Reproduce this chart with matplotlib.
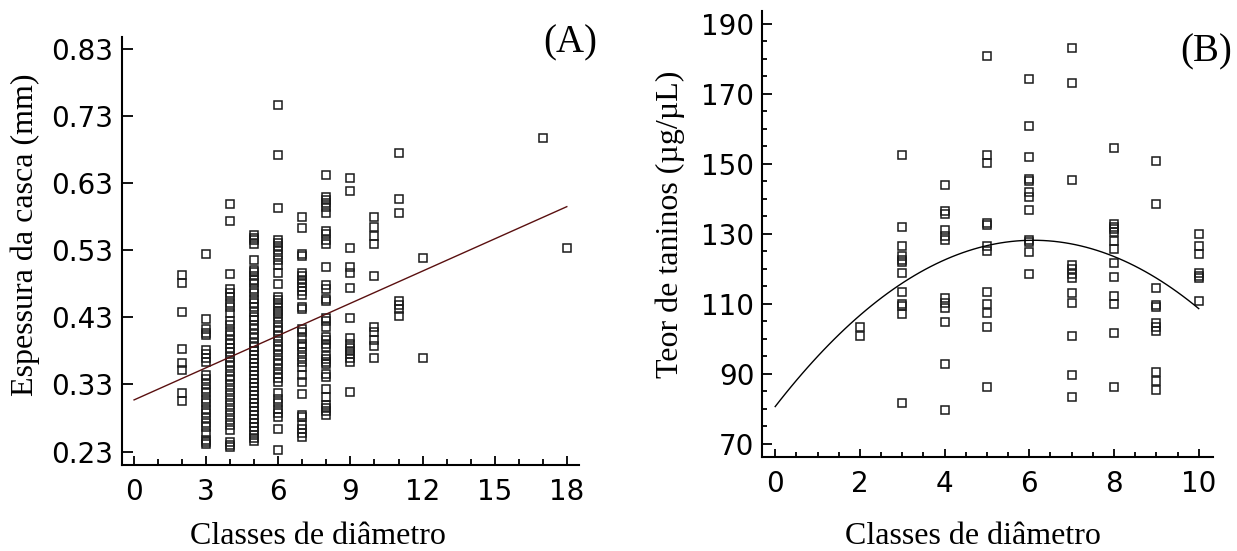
import numpy as np
import matplotlib
matplotlib.use("Agg")
import matplotlib.pyplot as plt
from matplotlib.ticker import FixedLocator, MultipleLocator, FormatStrFormatter

# ---------------- Panel A data: bark thickness (mm) per diameter class ----------------
a_c2 = [0.493, 0.481, 0.438, 0.383, 0.362, 0.352, 0.317, 0.305]
a_c3 = [0.525, 0.427, 0.412, 0.406, 0.403, 0.382, 0.376, 0.370, 0.364, 0.344, 0.338,
        0.331, 0.324, 0.317, 0.309, 0.303, 0.294, 0.287, 0.280, 0.273, 0.267, 0.258,
        0.247, 0.245, 0.242]
a_c4 = [0.599, 0.574, 0.495, 0.472, 0.466, 0.460, 0.452, 0.445, 0.437, 0.425, 0.418,
        0.410, 0.404, 0.397, 0.390, 0.384, 0.378, 0.371, 0.364, 0.357, 0.350, 0.343,
        0.336, 0.329, 0.322, 0.315, 0.307, 0.300, 0.292, 0.285, 0.277, 0.270, 0.262,
        0.245, 0.240, 0.237]
a_c5 = [0.553, 0.549, 0.545, 0.540, 0.515, 0.501, 0.497, 0.491, 0.486, 0.481, 0.473,
        0.466, 0.458, 0.452, 0.445, 0.438, 0.431, 0.426, 0.419, 0.412, 0.405, 0.399,
        0.392, 0.386, 0.380, 0.374, 0.368, 0.362, 0.356, 0.350, 0.344, 0.338, 0.332,
        0.326, 0.320, 0.314, 0.308, 0.302, 0.296, 0.290, 0.284, 0.278, 0.272, 0.266,
        0.260, 0.254, 0.250, 0.246]
a_c6 = [0.747, 0.672, 0.593, 0.545, 0.541, 0.536, 0.530, 0.523, 0.516, 0.508, 0.496,
        0.480, 0.461, 0.456, 0.452, 0.445, 0.440, 0.436, 0.430, 0.423, 0.416, 0.409,
        0.402, 0.395, 0.388, 0.381, 0.374, 0.367, 0.360, 0.353, 0.346, 0.340, 0.334,
        0.317, 0.309, 0.302, 0.294, 0.288, 0.282, 0.263, 0.232]
a_c7 = [0.580, 0.563, 0.524, 0.522, 0.496, 0.491, 0.486, 0.481, 0.475, 0.470, 0.463,
        0.445, 0.443, 0.413, 0.408, 0.400, 0.391, 0.386, 0.379, 0.371, 0.364, 0.356,
        0.344, 0.333, 0.316, 0.285, 0.282, 0.270, 0.263, 0.257, 0.252]
a_c8 = [0.642, 0.609, 0.605, 0.600, 0.595, 0.585, 0.559, 0.554, 0.546, 0.540, 0.505,
        0.478, 0.473, 0.458, 0.454, 0.429, 0.425, 0.416, 0.401, 0.396, 0.391, 0.386,
        0.373, 0.368, 0.364, 0.361, 0.346, 0.341, 0.323, 0.312, 0.300, 0.295, 0.290,
        0.285]
a_c9 = [0.637, 0.619, 0.533, 0.505, 0.496, 0.474, 0.429, 0.400, 0.390, 0.385, 0.380,
        0.375, 0.369, 0.364, 0.319]
a_c10 = [0.580, 0.564, 0.551, 0.539, 0.492, 0.416, 0.408, 0.396, 0.388, 0.369]
a_c11 = [0.675, 0.607, 0.585, 0.455, 0.448, 0.443, 0.432]
a_c12 = [0.518, 0.369]
a_c17 = [0.697]
a_c18 = [0.533]
a_classes = [2, 3, 4, 5, 6, 7, 8, 9, 10, 11, 12, 17, 18]
a_columns = [a_c2, a_c3, a_c4, a_c5, a_c6, a_c7, a_c8, a_c9, a_c10, a_c11, a_c12,
             a_c17, a_c18]
# linear fit (intercept, slope)
a_fit = [0.307, 0.0160]
a_yticks = [0.23, 0.33, 0.43, 0.53, 0.63, 0.73, 0.83]

# ---------------- Panel B data: tannin content (µg/µL) per diameter class ----------------
b_c2 = [103.3, 100.8]
b_c3 = [152.6, 131.8, 126.6, 123.5, 122.6, 121.9, 118.7, 113.4, 109.9, 109.4, 107.0, 81.6]
b_c4 = [144.0, 136.6, 135.6, 131.1, 129.4, 128.1, 111.5, 110.3, 108.7, 104.7, 92.8, 79.5]
b_c5 = [180.8, 152.5, 150.1, 133.0, 132.4, 126.4, 125.0, 113.4, 109.8, 107.4, 103.3, 86.3]
b_c6 = [174.3, 160.9, 151.9, 145.6, 145.0, 141.8, 140.4, 136.8, 128.3, 127.7, 124.8, 118.4]
b_c7 = [183.0, 173.1, 145.4, 121.0, 119.8, 118.6, 117.4, 113.0, 110.2, 100.8, 89.5, 83.2]
b_c8 = [154.5, 132.7, 132.0, 131.3, 130.6, 127.9, 125.6, 121.6, 117.6, 112.3, 110.0,
        101.5, 86.3]
b_c9 = [150.8, 138.5, 114.4, 109.5, 109.0, 104.6, 103.4, 102.3, 90.4, 87.9, 85.4]
b_c10 = [130.0, 126.6, 124.3, 118.9, 118.0, 117.3, 110.8]
b_classes = [2, 3, 4, 5, 6, 7, 8, 9, 10]
b_columns = [b_c2, b_c3, b_c4, b_c5, b_c6, b_c7, b_c8, b_c9, b_c10]
# quadratic fit (b0, b1, b2)
b_fit = [80.6, 15.6, -1.28]
b_yticks = [70, 90, 110, 130, 150, 170, 190]

# ---------------- Figure ----------------
W, H, DPI = 1237, 551, 100
plt.rcParams["font.family"] = ["DejaVu Sans"]
fig = plt.figure(figsize=(W / DPI, H / DPI), dpi=DPI)
fig.patch.set_facecolor("white")

serif = ["Liberation Serif", "DejaVu Serif"]
mk = dict(marker="s", linestyle="none", markersize=6.4, markerfacecolor="none",
          markeredgecolor="#1a1a1a", markeredgewidth=1.1)


def style_axes(ax):
    for s in ("top", "right"):
        ax.spines[s].set_visible(False)
    for s in ("left", "bottom"):
        ax.spines[s].set_linewidth(1.5)
        ax.spines[s].set_color("black")
    ax.tick_params(which="both", labelsize=20, labelfontfamily="DejaVu Sans")


# Panel A
axA = fig.add_axes([121.8 / W, 1 - 465 / H, (579.3 - 121.8) / W, (465 - 36.9) / H])
xa = np.concatenate([[c] * len(v) for c, v in zip(a_classes, a_columns)])
ya = np.concatenate(a_columns)
axA.plot(xa, ya, **mk, zorder=3)
xl = np.linspace(0, 18, 50)
axA.plot(xl, a_fit[0] + a_fit[1] * xl, color="#5a1010", lw=1.0, zorder=4)
axA.set_xlim(-0.51, 18.52)
axA.set_ylim(0.21, 0.848)
axA.xaxis.set_major_locator(MultipleLocator(3))
axA.xaxis.set_minor_locator(MultipleLocator(1))
axA.yaxis.set_major_locator(FixedLocator(a_yticks))
axA.yaxis.set_major_formatter(FormatStrFormatter("%.2f"))
axA.tick_params(axis="x", which="major", direction="in", length=6.5, width=1.3, pad=9)
axA.tick_params(axis="x", which="minor", direction="in", length=4.3, width=1.3)
axA.tick_params(axis="y", which="major", direction="in", length=7.7, width=1.3, pad=6)
style_axes(axA)

# Panel B
axB = fig.add_axes([761.9 / W, 1 - 457.3 / H, (1212.7 - 761.9) / W, (457.3 - 10.5) / H])
xb = np.concatenate([[c] * len(v) for c, v in zip(b_classes, b_columns)])
yb = np.concatenate(b_columns)
axB.plot(xb, yb, **mk, zorder=3)
xq = np.linspace(0, 10, 80)
axB.plot(xq, b_fit[0] + b_fit[1] * xq + b_fit[2] * xq ** 2, color="black", lw=1.0, zorder=4)
axB.set_xlim(-0.314, 10.33)
axB.set_ylim(66.1, 193.8)
axB.xaxis.set_major_locator(MultipleLocator(2))
axB.xaxis.set_minor_locator(MultipleLocator(0.5))
axB.yaxis.set_major_locator(FixedLocator(b_yticks))
axB.yaxis.set_minor_locator(MultipleLocator(5))
axB.tick_params(axis="x", which="major", direction="in", length=5.8, width=1.3, pad=9)
axB.tick_params(axis="x", which="minor", direction="in", length=3.6, width=1.3)
axB.tick_params(axis="y", which="major", direction="in", length=7.0, width=1.3, pad=5.5)
axB.tick_params(axis="y", which="minor", direction="in", length=3.6, width=1.3)
style_axes(axB)

# Labels
fig.text(25.7 / W, 1 - 234.5 / H, "Espessura da casca (mm)", rotation=90,
         ha="center", va="center", fontsize=23, family=serif)
fig.text(317.5 / W, 1 - 544 / H, "Classes de diâmetro", ha="center", va="baseline",
         fontsize=23, family=serif)
fig.text(670.5 / W, 1 - 224 / H, "Teor de taninos (µg/µL)", rotation=90,
         ha="center", va="center", fontsize=23, family=serif)
fig.text(973 / W, 1 - 544 / H, "Classes de diâmetro", ha="center", va="baseline",
         fontsize=23, family=serif)
fig.text(570 / W, 1 - 52.7 / H, "(A)", ha="center", va="baseline", fontsize=28,
         family=serif)
fig.text(1206.5 / W, 1 - 61.5 / H, "(B)", ha="center", va="baseline", fontsize=28,
         family=serif)

fig.savefig("out.png", dpi=DPI, facecolor="white")
